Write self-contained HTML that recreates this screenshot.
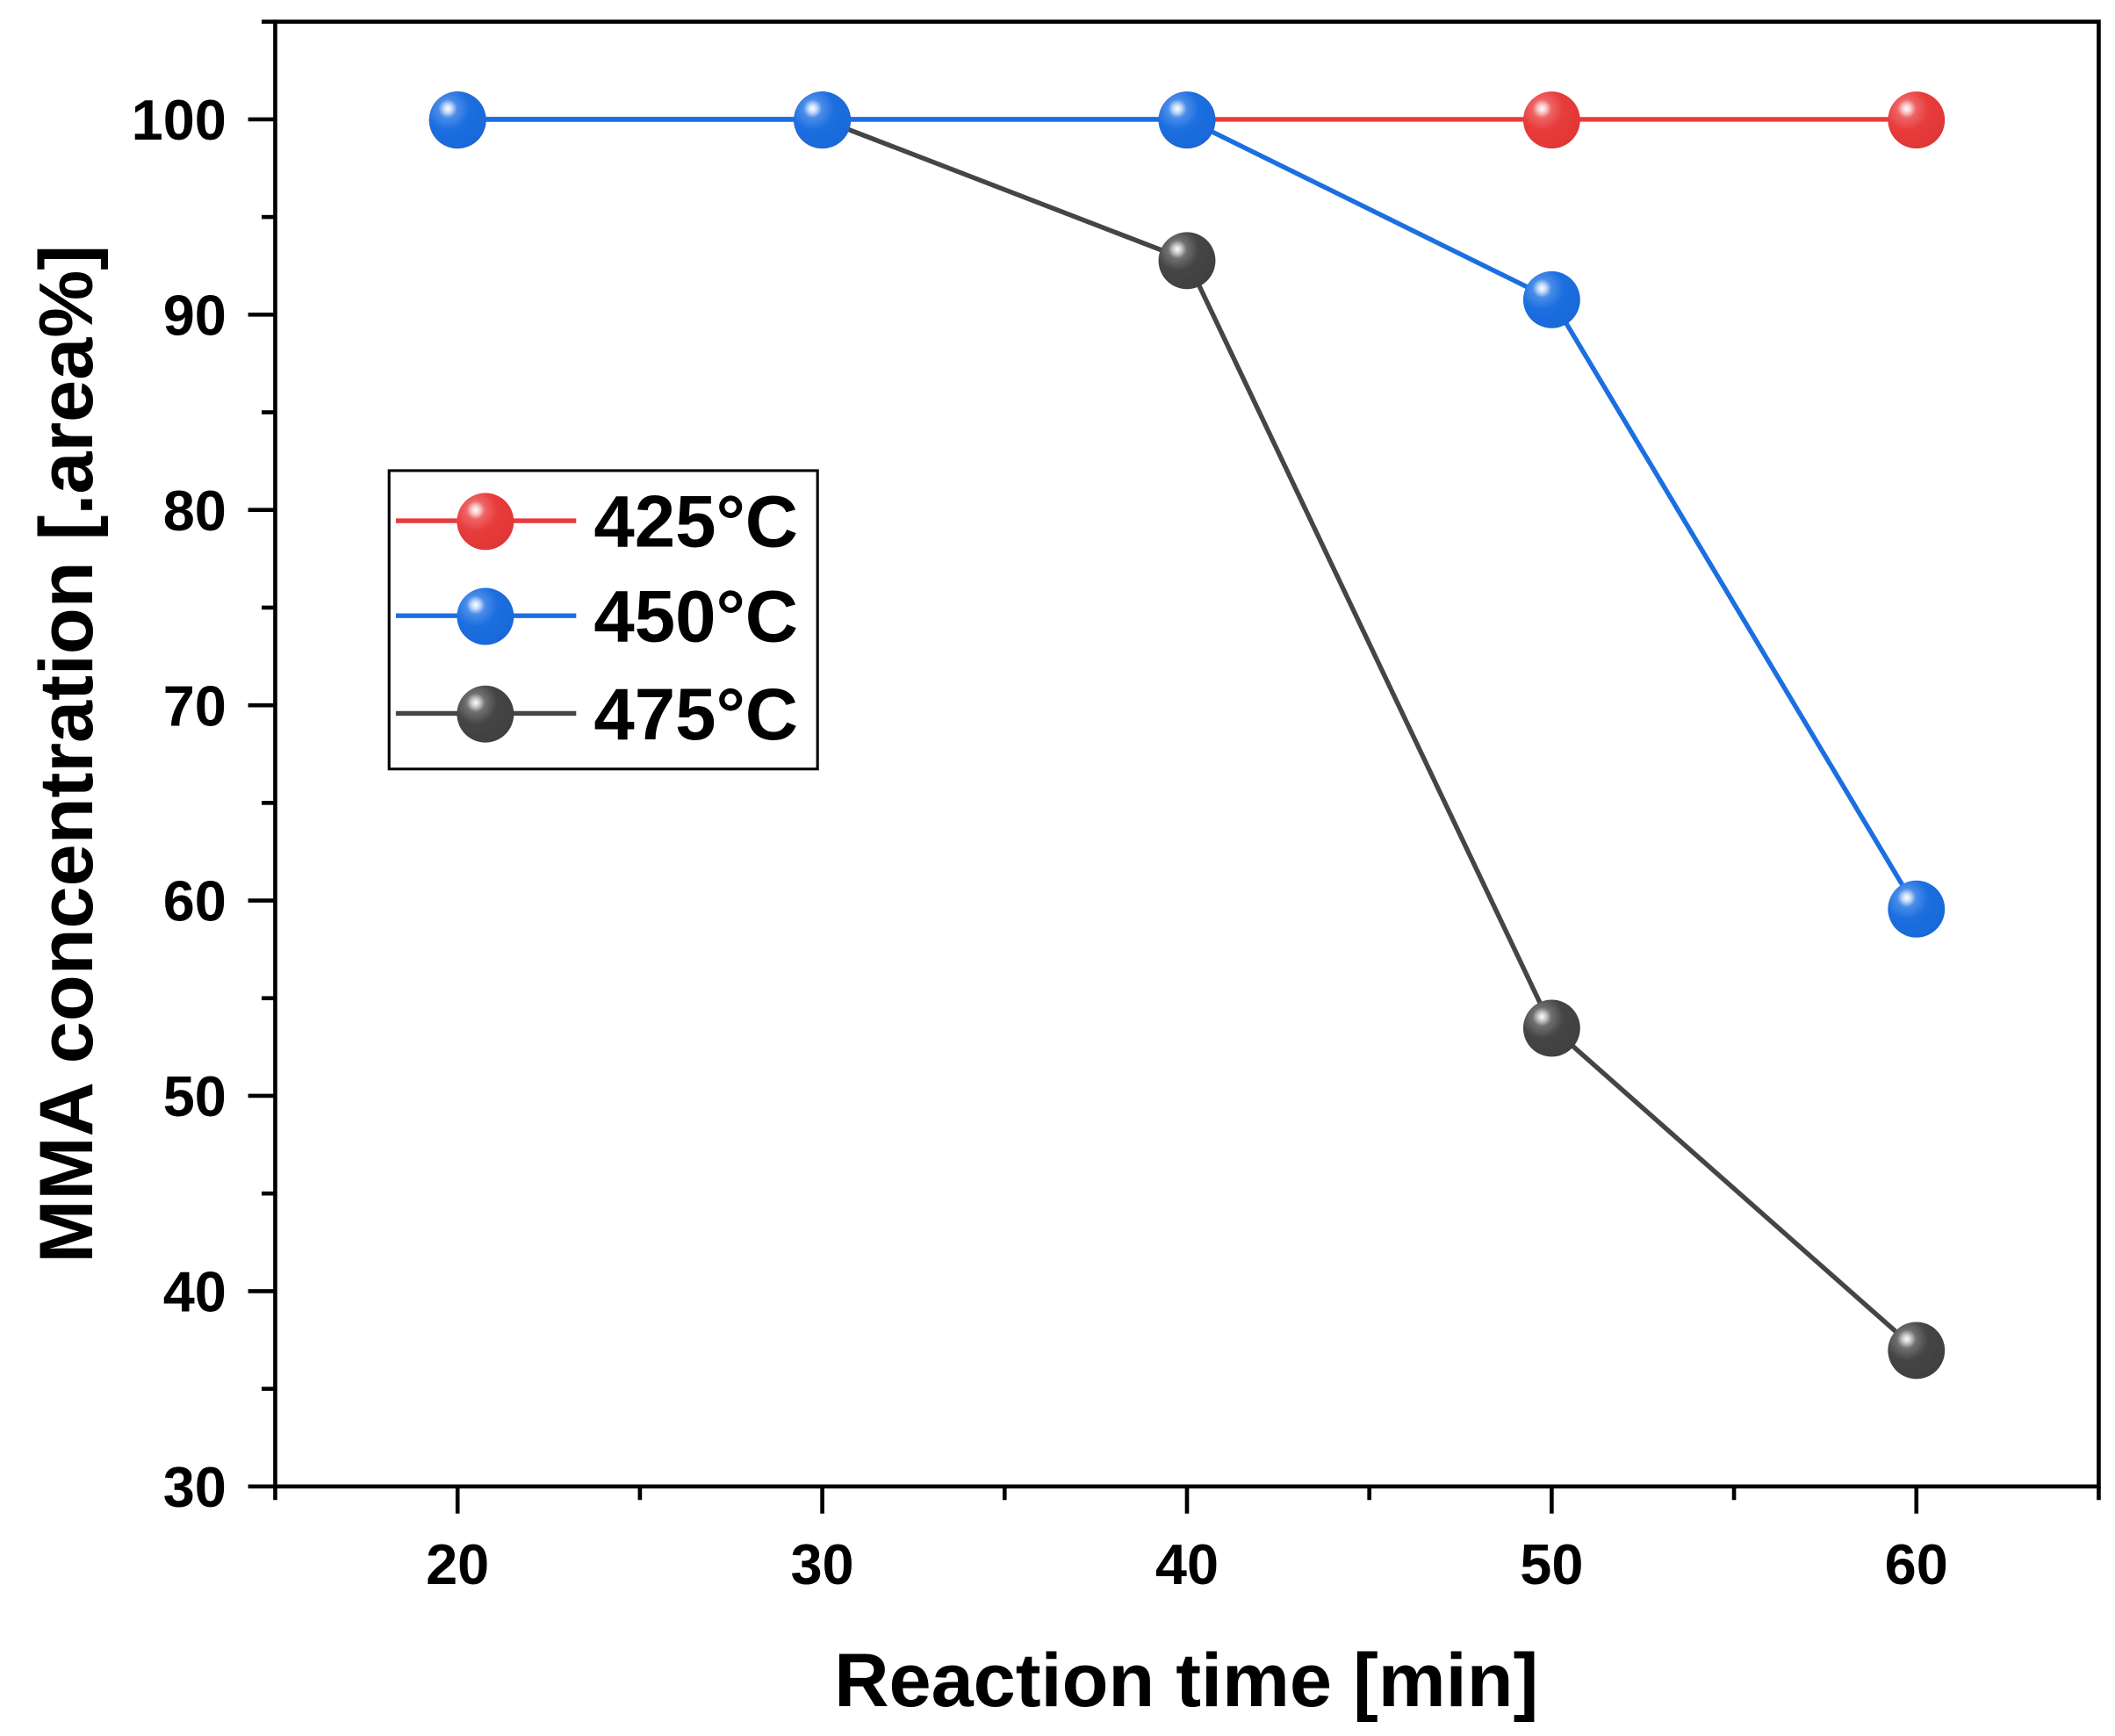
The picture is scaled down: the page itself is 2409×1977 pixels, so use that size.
<!DOCTYPE html>
<html><head><meta charset="utf-8"><style>
html,body{margin:0;padding:0;background:#fff}
svg{display:block}
text{font-family:"Liberation Sans",sans-serif;font-weight:bold;fill:#000}
</style></head><body>
<svg id="chart" width="2409" height="1977" viewBox="0 0 1560 1280" preserveAspectRatio="none" xmlns="http://www.w3.org/2000/svg">
<defs>
<radialGradient id="gr" cx="0.33" cy="0.3" r="0.75"><stop offset="0" stop-color="#fff"/><stop offset="0.1" stop-color="#f8c8c8"/><stop offset="0.22" stop-color="#ee6464"/><stop offset="0.5" stop-color="#e83c3c"/><stop offset="1" stop-color="#e03636"/></radialGradient>
<radialGradient id="gb" cx="0.33" cy="0.3" r="0.75"><stop offset="0" stop-color="#fff"/><stop offset="0.1" stop-color="#c0d8f8"/><stop offset="0.22" stop-color="#4a8ce8"/><stop offset="0.5" stop-color="#1c6fe0"/><stop offset="1" stop-color="#1868d8"/></radialGradient>
<radialGradient id="gk" cx="0.33" cy="0.3" r="0.75"><stop offset="0" stop-color="#fff"/><stop offset="0.1" stop-color="#c8c8c8"/><stop offset="0.22" stop-color="#707070"/><stop offset="0.5" stop-color="#454545"/><stop offset="1" stop-color="#404040"/></radialGradient>
</defs>
<g id="plot"></g>
<g id="axes"></g>
<text x="875" y="1258" font-size="56" text-anchor="middle">Reaction time [min]</text>
<text transform="translate(68,556) rotate(-90)" font-size="56" text-anchor="middle">MMA concentration [.area%]</text>
<g id="legend"></g>
</svg>
<script>
const times = [20, 30, 40, 50, 60];
const s425 = [100, 100, 100, 100, 100];
const s450 = [100, 100, 100, 90.8, 59.6];
const s475 = [100, 100, 92.8, 53.5, 37.0];
const seriesNames = ["425°C", "450°C", "475°C"];
const xTicks = [20, 30, 40, 50, 60];
const yTicks = [30, 40, 50, 60, 70, 80, 90, 100];

const L=203,R=1548,T=16,B=1096,X0=15,X1=65,Y0=30,Y1=105;
const sx=v=>L+(v-X0)/(X1-X0)*(R-L);
const sy=v=>B-(v-Y0)/(Y1-Y0)*(B-T);
const NS="http://www.w3.org/2000/svg";
function mk(tag,attrs,parent){const e=document.createElementNS(NS,tag);for(const k in attrs)e.setAttribute(k,attrs[k]);parent.appendChild(e);return e;}
const plot=document.getElementById('plot'),axes=document.getElementById('axes'),legend=document.getElementById('legend');
const colors=["#e83c3c","#1c6fe0","#454545"],grads=["url(#gr)","url(#gb)","url(#gk)"];
function marker(cx,cy,i,parent){
  return mk('circle',{cx:cx,cy:cy+0.5,r:21,fill:grads[i]},parent);
}
[[2,s475],[0,s425],[1,s450]].forEach(([i,vals])=>{
  const g=mk('g',{},plot);
  
  
  const pts=times.map((t,j)=>sx(t)+','+sy(vals[j])).join(' ');
  const pl=mk('polyline',{points:pts,fill:'none',stroke:colors[i],'stroke-width':3.5},g);
  
  
  times.forEach((t,j)=>{
    const c=marker(sx(t),sy(vals[j]),i,g);
    
    
  });
});
const fr=mk('rect',{x:L,y:T,width:R-L,height:B-T,fill:'none',stroke:'#000','stroke-width':3},axes);


for(let v=Y0;v<=Y1;v+=5){
  const major=v%10===0;
  const tk=mk('line',{x1:L-(major?20:10),x2:L,y1:sy(v),y2:sy(v),stroke:'#000','stroke-width':3},axes);
  
  
}
yTicks.forEach(v=>{
  const t=mk('text',{x:167,y:sy(v)+15,'font-size':42,'text-anchor':'end'},axes);
  t.textContent=v;
  
  
});
for(let v=X0;v<=X1;v+=5){
  const major=v%10===0;
  const tk=mk('line',{x1:sx(v),x2:sx(v),y1:B,y2:B+(major?20:10),stroke:'#000','stroke-width':3},axes);
  
  
}
xTicks.forEach(v=>{
  const t=mk('text',{x:sx(v),y:1168,'font-size':42,'text-anchor':'middle'},axes);
  t.textContent=v;
  
  
});
const lb=mk('rect',{x:287,y:347,width:316,height:220,fill:'#fff',stroke:'#000','stroke-width':2},legend);


const ly=[384,454,526];
seriesNames.forEach((n,i)=>{
  const g=mk('g',{},legend);
  
  
  mk('line',{x1:292,x2:425,y1:ly[i],y2:ly[i],stroke:colors[i],'stroke-width':3.5},g);
  marker(358,ly[i],i,g);
  const t=mk('text',{x:438,y:ly[i]+19,'font-size':54},g);
  t.textContent=n;
});
</script>
</body></html>
